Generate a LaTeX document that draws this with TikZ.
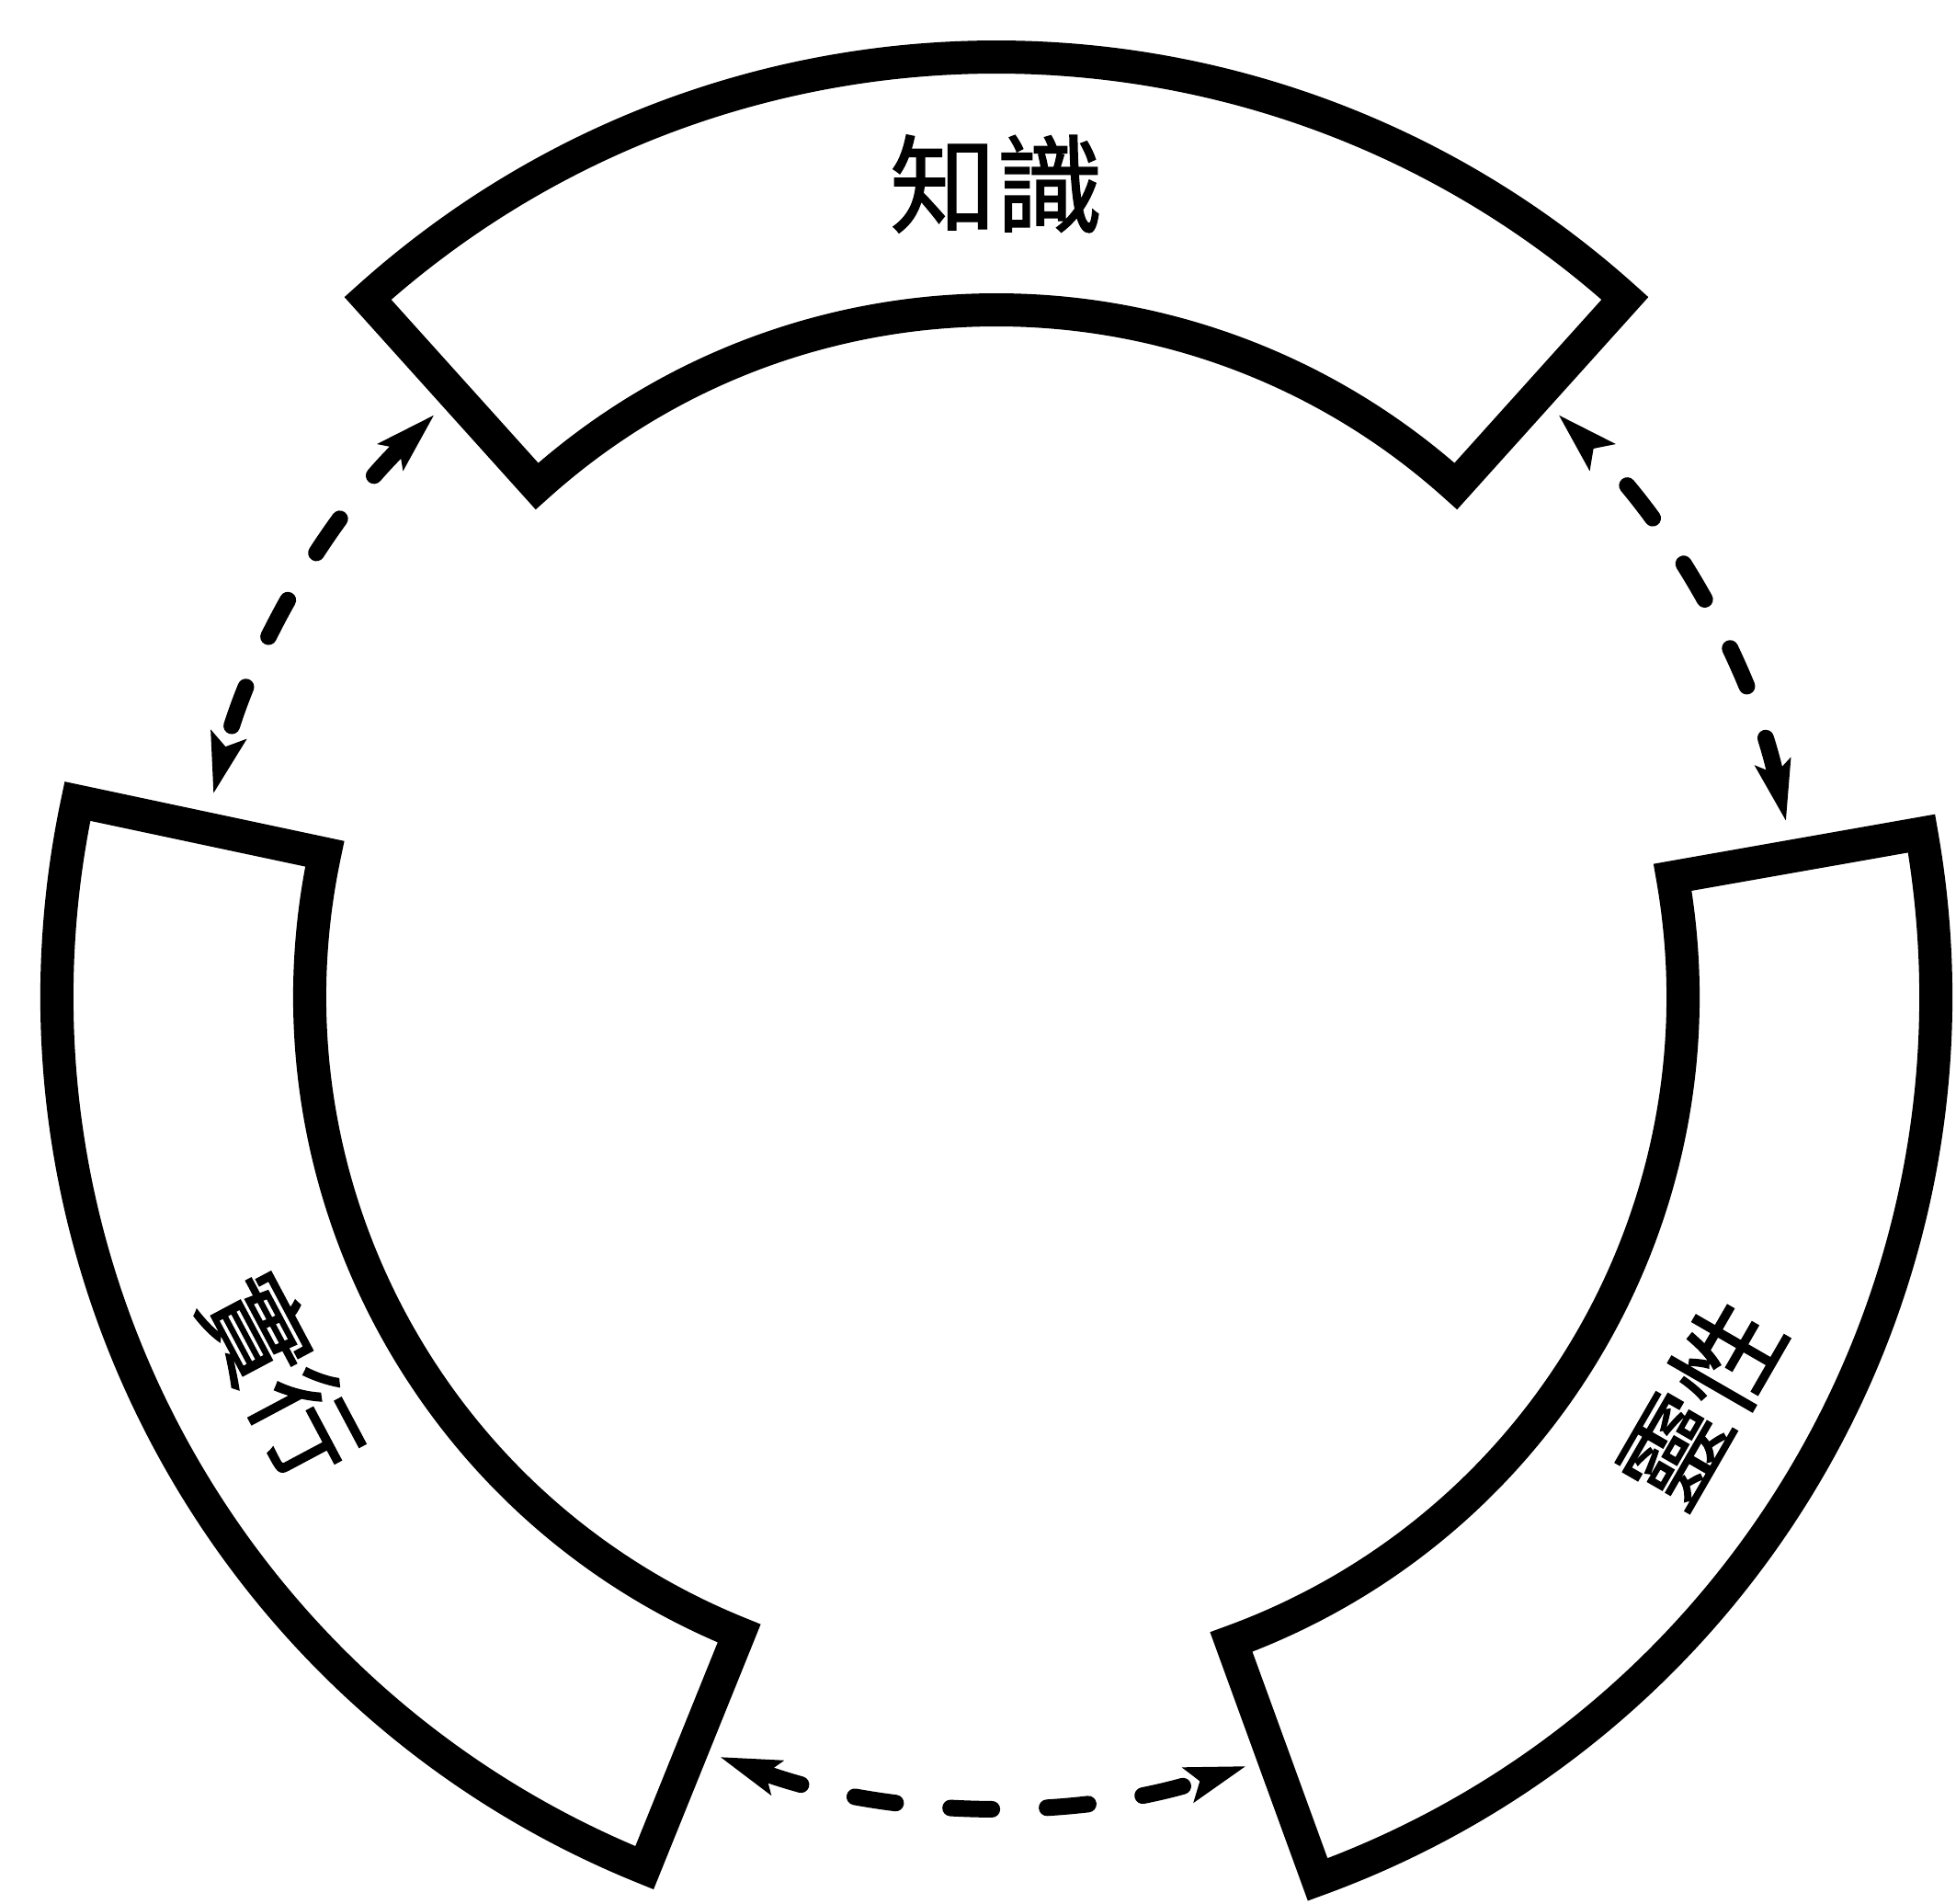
\documentclass[tikz,border=0pt]{standalone}
\usepackage{fontspec}
\newfontfamily\cjk[FakeBold=1.2]{Noto Sans CJK TC}
\usetikzlibrary{arrows.meta}
\tikzset{
  band/.style={draw=black, line width=3.6mm, line join=miter, fill=white},
  linkarr/.style={{Stealth[length=6.5mm,width=3.8mm,inset=1.2mm]}-{Stealth[length=6.5mm,width=3.8mm,inset=1.2mm]},
                  line width=1.8mm, line cap=round, dash pattern=on 4.5mm off 6mm},
  bandlabel/.style={font=\cjk\fontsize{33}{33}\selectfont, inner sep=0pt}}

\begin{document}
\begin{tikzpicture}
    \useasboundingbox (-10.84,-9.86) rectangle (10.44,10.84);
    % the three ring pieces
    \draw[band] (132:10.22) arc[start angle=132, end angle=48, radius=10.22]
      -- (48:7.47) arc[start angle=48, end angle=132, radius=7.47] -- cycle;
    \draw[band] (168:10.22) arc[start angle=168, end angle=248, radius=10.22]
      -- (248:7.47) arc[start angle=248, end angle=168, radius=7.47] -- cycle;
    \draw[band] (-70:10.22) arc[start angle=-70, end angle=10, radius=10.22]
      -- (10:7.47) arc[start angle=10, end angle=-70, radius=7.47] -- cycle;
    \node[bandlabel] (zhishi) at (90:8.84) {知識};
    \node[bandlabel, rotate=-62] (shixing) at (208:8.8) {實行};
    \node[bandlabel, rotate=60] (lingxing) at (-30:8.85) {靈性};
    % dashed links between the pieces
    \coordinate (zs) at (134:8.8);
    \coordinate (sl) at (250:8.8);
    \coordinate (lz) at (12.5:8.8);
    \draw[linkarr] (zs) arc[start angle=134, end angle=165.5, radius=8.8];
    \draw[linkarr] (sl) arc[start angle=250, end angle=288, radius=8.8];
    \draw[linkarr] (lz) arc[start angle=12.5, end angle=46, radius=8.8];
\end{tikzpicture}
\end{document}
